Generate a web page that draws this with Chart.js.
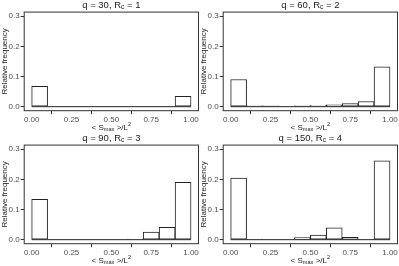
<!DOCTYPE html>
<html>
<head>
<meta charset="utf-8">
<script src="https://cdn.jsdelivr.net/npm/chart.js@4"></script>
<style>
	body { margin: 0; background: #fff; }
	#wrap { position: relative; width: 399px; height: 266px; overflow: hidden; }
	.panel { position: absolute; width: 200px; height: 133px; }
</style>
</head>
<body>
<div id="wrap">
	<div class="panel" style="left:0;top:0"><canvas id="c0"></canvas></div>
	<div class="panel" style="left:199px;top:0"><canvas id="c1"></canvas></div>
	<div class="panel" style="left:0;top:133px"><canvas id="c2"></canvas></div>
	<div class="panel" style="left:199px;top:133px"><canvas id="c3"></canvas></div>
</div>
<script>
// facets
const qValues = [30, 60, 90, 150];
const rcValues = [1, 2, 3, 4];

// histogram bins (10 bins of width 0.1)
const binEdges = [0, 0.1, 0.2, 0.3, 0.4, 0.5, 0.6, 0.7, 0.8, 0.9, 1.0];
const binCenters = [0.05, 0.15, 0.25, 0.35, 0.45, 0.55, 0.65, 0.75, 0.85, 0.95];

// relative frequency per bin
const freqQ30 = [0.067, 0, 0, 0, 0, 0, 0, 0, 0, 0.034];
const freqQ60 = [0.090, 0.003, 0.003, 0, 0.003, 0.004, 0.006, 0.010, 0.017, 0.132];
const freqQ90 = [0.134, 0, 0, 0, 0, 0, 0.002, 0.025, 0.041, 0.190];
const freqQ150 = [0.204, 0.002, 0, 0, 0.007, 0.015, 0.039, 0.008, 0.002, 0.261];
const series = [freqQ30, freqQ60, freqQ90, freqQ150];

// ticks
const xTicks = [0, 0.25, 0.5, 0.75, 1];
const xTickLabels = ['0.00', '0.25', '0.50', '0.75', '1.00'];
const yTicks = [0, 0.1, 0.2, 0.3];
const yTickLabels = ['0.0', '0.1', '0.2', '0.3'];

const FONT = '"Liberation Sans", Arial, sans-serif';

// draws text pieces with sub/superscripts centred on cx
function drawRich(ctx, parts, cx, cy, size, color) {
	ctx.save();
	ctx.fillStyle = color;
	ctx.textBaseline = 'middle';
	ctx.textAlign = 'left';
	let total = 0;
	parts.forEach(p => {
		let s = p.sub || p.sup ? size * 0.7 : size;
		ctx.font = s + 'px ' + FONT;
		p.w = ctx.measureText(p.t).width;
		p.s = s;
		total += p.w;
	});
	let x = cx - total / 2;
	parts.forEach(p => {
		ctx.font = p.s + 'px ' + FONT;
		let y = cy;
		if (p.sub) y += size * 0.28;
		if (p.sup) y -= size * 0.35;
		ctx.fillText(p.t, x, y);
		x += p.w;
	});
	ctx.restore();
}

const panelDeco = {
	id: 'panelDeco',
	afterDatasetsDraw(chart, args, opts) {
		const ctx = chart.ctx;
		const a = chart.chartArea;
		ctx.save();
		ctx.strokeStyle = '#333';
		ctx.lineWidth = 1;
		ctx.strokeRect(a.left + 0.5, a.top + 0.5, a.right - a.left - 1, a.bottom - a.top - 1);
		ctx.restore();
		let cx = (a.left + a.right) / 2;
		drawRich(ctx, [{ t: 'q = ' + opts.q + ', R' }, { t: 'c', sub: true }, { t: ' = ' + opts.rc }], cx, 5, 9.5, '#1a1a1a');
		drawRich(ctx, [{ t: '< S' }, { t: 'max', sub: true }, { t: ' >/L' }, { t: '2', sup: true }], cx, 127.5, 8, '#222');
	},
};

series.forEach((freq, i) => {
	new Chart(document.getElementById('c' + i), {
		type: 'bar',
		data: {
			datasets: [
				{
					type: 'line',
					data: [{ x: binEdges[0], y: 0 }, { x: binEdges[binEdges.length - 1], y: 0 }],
					borderColor: '#222',
					borderWidth: 1,
					pointRadius: 0,
					order: 0,
				},
				{
					data: binCenters.map((c, k) => ({ x: c, y: freq[k] })),
					backgroundColor: '#fff',
					borderColor: '#222',
					borderWidth: 1,
					borderSkipped: false,
					barPercentage: 1,
					categoryPercentage: 1,
					order: 1,
				},
			],
		},
		options: {
			responsive: true,
			maintainAspectRatio: false,
			animation: false,
			devicePixelRatio: 1,
			layout: { padding: { top: 11.6, right: 1, left: 0, bottom: 0 } },
			plugins: {
				legend: { display: false },
				tooltip: { enabled: false },
				title: { display: false },
				panelDeco: { q: qValues[i], rc: rcValues[i] },
			},
			scales: {
				x: {
					type: 'linear',
					min: -0.05,
					max: 1.05,
					offset: false,
					afterBuildTicks: (s) => { s.ticks = xTicks.map(v => ({ value: v })); },
					afterFit: (s) => { s.height = 133 - 11.6 - 99.6; },
					ticks: {
						autoSkip: false,
						maxRotation: 0,
						padding: 1,
						color: '#4d4d4d',
						font: { family: FONT, size: 8 },
						callback: (v, k) => xTickLabels[k],
					},
					grid: { drawOnChartArea: false, drawTicks: true, tickLength: 3, color: '#333' },
					border: { display: false },
				},
				y: {
					min: -0.015,
					max: 0.315,
					afterBuildTicks: (s) => { s.ticks = yTicks.map(v => ({ value: v })); },
					afterFit: (s) => { s.width = 23.7; },
					ticks: {
						padding: 1,
						color: '#4d4d4d',
						font: { family: FONT, size: 8 },
						callback: (v, k) => yTickLabels[k],
					},
					title: {
						display: true,
						text: 'Relative frequency',
						color: '#222',
						padding: 0,
						font: { family: FONT, size: 8 },
					},
					grid: { drawOnChartArea: false, drawTicks: true, tickLength: 3, color: '#333' },
					border: { display: false },
				},
			},
		},
		plugins: [panelDeco],
	});
});
</script>
</body>
</html>
